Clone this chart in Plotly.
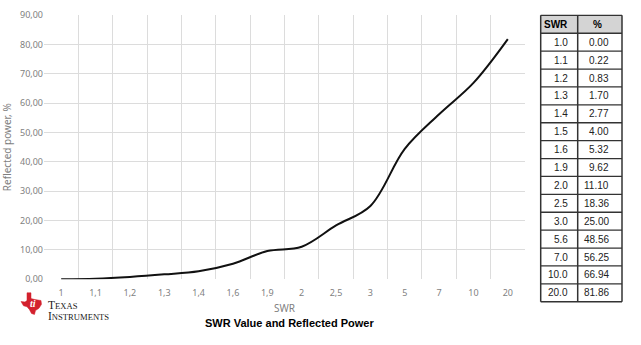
import plotly.graph_objects as go

# ---- data ----
swr_labels = ["1", "1,1", "1,2", "1,3", "1,4", "1,6", "1,9", "2", "2,5", "3", "5", "7", "10", "20"]
reflected = [0.00, 0.22, 0.83, 1.70, 2.77, 5.33, 9.63, 11.10, 18.36, 25.00, 44.44, 56.25, 66.94, 81.86]

table_swr = ["1.0", "1.1", "1.2", "1.3", "1.4", "1.5", "1.6", "1.9", "2.0", "2.5", "3.0", "5.6", "7.0", "10.0", "20.0"]
table_pct = ["0.00", "0.22", "0.83", "1.70", "2.77", "4.00", "5.32", "9.62", "11.10", "18.36", "25.00", "48.56", "56.25", "66.94", "81.86"]
table_header = ["SWR", "%"]

y_ticks = [0, 10, 20, 30, 40, 50, 60, 70, 80, 90]

W, H = 641, 345
def px(x):
    return x / W
def py(y):
    return 1 - y / H

fig = go.Figure()

fig.add_trace(go.Scatter(
    x=swr_labels, y=reflected, mode="lines",
    line=dict(color="#111111", width=2, shape="spline", smoothing=1.0),
    showlegend=False, hoverinfo="skip",
))

grid = "#dcdcdc"
tick_font = dict(family="Noto Sans, Open Sans", size=9, color="#7f7f7f")

fig.update_layout(
    width=W, height=H,
    margin=dict(l=0, r=0, t=0, b=0),
    paper_bgcolor="white", plot_bgcolor="white",
    separators=", ",
    showlegend=False,
    xaxis=dict(
        domain=[px(44), px(525)],
        type="category",
        range=[-0.5, len(swr_labels) - 0.5],
        tickson="boundaries",
        ticks="",
        ticklabelstandoff=7,
        showgrid=True, gridcolor=grid, gridwidth=1,
        showline=False, zeroline=False,
        tickfont=tick_font,
        title=dict(text="SWR", font=dict(family="Noto Sans, Open Sans", size=10, color="#7f7f7f"), standoff=6),
        fixedrange=True,
    ),
    yaxis=dict(
        domain=[py(283), py(8.5)],
        range=[0, 90],
        tickvals=y_ticks,
        tickformat=".2f",
        ticks="",
        showgrid=True, gridcolor=grid, gridwidth=1,
        zeroline=False, showline=False,
        tickfont=tick_font,
        title=dict(text="Reflected power, %", font=dict(family="Noto Sans, Open Sans", size=10, color="#7f7f7f"), standoff=6),
        fixedrange=True,
    ),
)

# ---- table built from shapes + annotations ----
t_left, t_mid, t_right = 540.7, 577.7, 622.0
t_top, row_h = 8.7, 18.6
n_rows = len(table_swr) + 1
t_bottom = t_top + n_rows * row_h
line_col = "#333333"

# header fill
fig.add_shape(type="rect", xref="paper", yref="paper",
              x0=px(t_left), x1=px(t_right), y0=py(t_top + row_h), y1=py(t_top),
              fillcolor="#d4d4d4", line=dict(width=0), layer="below")
# horizontal lines
for i in range(n_rows + 1):
    yy = t_top + i * row_h
    fig.add_shape(type="line", xref="paper", yref="paper",
                  x0=px(t_left), x1=px(t_right), y0=py(yy), y1=py(yy),
                  line=dict(color=line_col, width=1.3))
# vertical lines
for xx in (t_left, t_mid, t_right):
    fig.add_shape(type="line", xref="paper", yref="paper",
                  x0=px(xx), x1=px(xx), y0=py(t_top), y1=py(t_bottom),
                  line=dict(color=line_col, width=1.5))

tfont = dict(family="Liberation Sans, Arial", size=10, color="#000000")
fig.add_annotation(x=px(t_left + 1.5), y=py(t_top + row_h / 2), xref="paper", yref="paper",
                   text="<b>%s</b>" % table_header[0], showarrow=False, font=tfont,
                   xanchor="left", yanchor="middle")
fig.add_annotation(x=px((t_mid + t_right) / 2 - 2), y=py(t_top + row_h / 2), xref="paper", yref="paper",
                   text="<b>%s</b>" % table_header[1], showarrow=False, font=tfont,
                   xanchor="center", yanchor="middle")
cfont = dict(family="Liberation Sans, Arial", size=10, color="#222222")
for i, (s, p) in enumerate(zip(table_swr, table_pct)):
    yc = t_top + (i + 1.5) * row_h
    fig.add_annotation(x=px(570), y=py(yc), xref="paper", yref="paper", text=s,
                       showarrow=False, font=cfont, xanchor="right", yanchor="middle")
    fig.add_annotation(x=px(611), y=py(yc), xref="paper", yref="paper", text=p,
                       showarrow=False, font=cfont, xanchor="right", yanchor="middle")

# chart caption
fig.add_annotation(
    x=px(289), y=py(328), xref="paper", yref="paper",
    text="<b>SWR Value and Reflected Power</b>", showarrow=False,
    font=dict(family="Liberation Sans, Arial", size=11, color="#000000"),
    xanchor="center", yanchor="middle",
)

# Texas Instruments logo (simplified)
tx_pts = [(27, 297), (31, 297), (31, 303), (35, 304), (41, 305), (41.5, 309), (39, 313),
          (35.5, 315.5), (34.5, 319.5), (31.5, 318.5), (29.5, 314.5), (27, 311.5),
          (23.5, 310.5), (21, 306), (25, 306.5), (27, 305)]
path = "M " + " L ".join("%.5f,%.5f" % (px(a), py(b)) for a, b in tx_pts) + " Z"
fig.add_shape(type="path", path=path, xref="paper", yref="paper",
              fillcolor="#d3212d", line=dict(color="#d3212d", width=0.5))
fig.add_annotation(
    x=px(33), y=py(308), xref="paper", yref="paper", text="<b><i>ti</i></b>",
    showarrow=False, font=dict(family="Liberation Serif", size=10, color="white"),
    xanchor="center", yanchor="middle",
)
fig.add_annotation(
    x=px(46), y=py(315), xref="paper", yref="paper",
    text="<span style='font-size:11.5px'>T</span>EXAS<br><span style='font-size:11.5px'>I</span>NSTRUMENTS",
    showarrow=False, align="left",
    font=dict(family="Liberation Serif, DejaVu Serif", size=8.6, color="#1a1a1a"),
    xanchor="left", yanchor="middle",
)

fig.write_html("out.html")
